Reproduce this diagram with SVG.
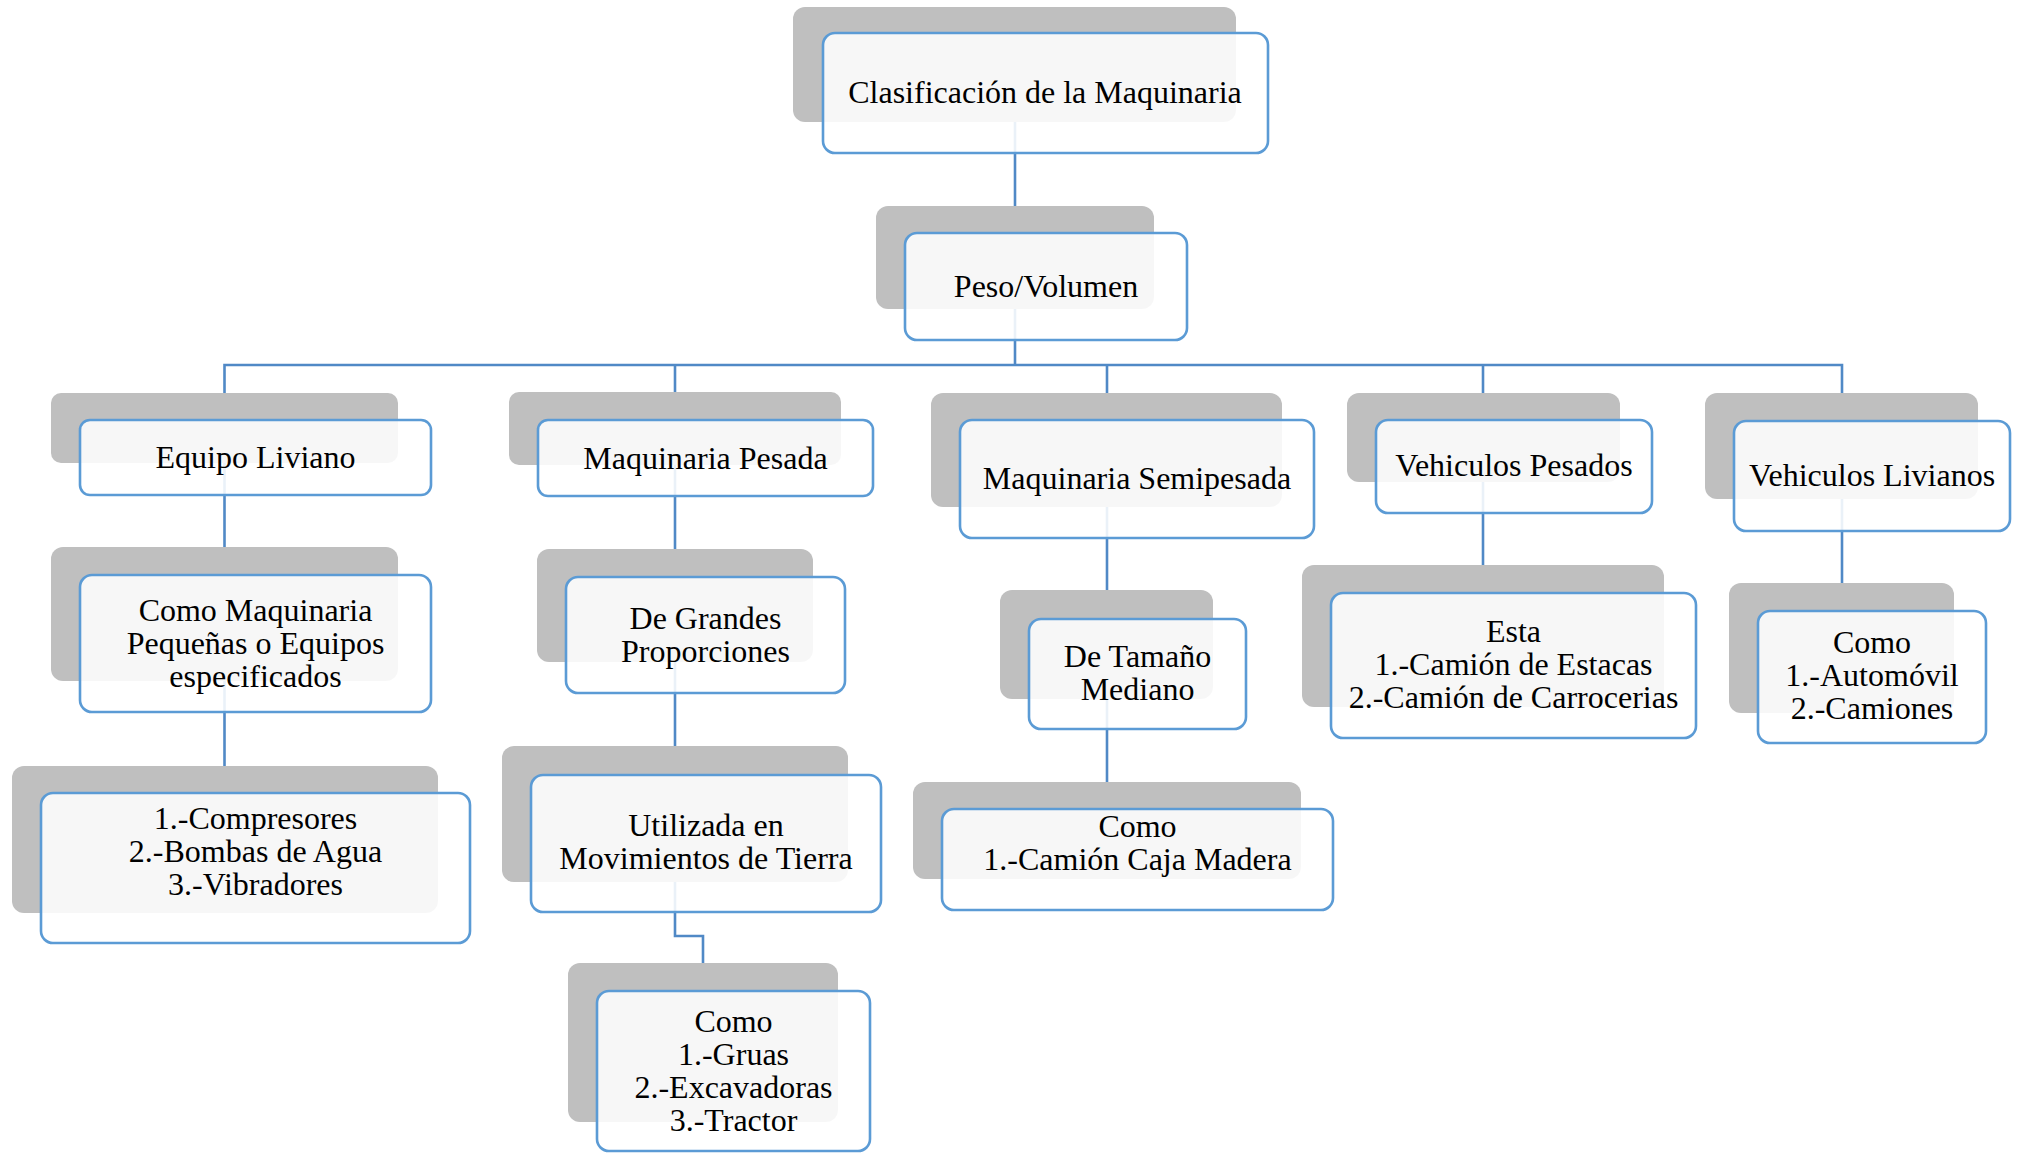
<svg xmlns="http://www.w3.org/2000/svg" width="2018" height="1153" viewBox="0 0 2018 1153">
<style>
.bg{fill:#ffffff}
.sh{fill:#bfbfbf}
.bx{fill:#ffffff;fill-opacity:0.88;stroke:#5b9bd5;stroke-width:2.6}
.c{fill:none;stroke:#5089c6;stroke-width:2.6}
text{font-family:"Liberation Serif","Times New Roman",serif;font-size:32px;fill:#000000;text-anchor:middle}
</style>
<rect class="bg" x="0" y="0" width="2018" height="1153"/>
<g id="connectors">
<path class="c" d="M1015 122V206"/>
<path class="c" d="M1015 309V365"/>
<path class="c" d="M224.5 393V365H1842V393"/>
<path class="c" d="M675 365V392"/>
<path class="c" d="M1107 365V393"/>
<path class="c" d="M1483 365V393"/>
<path class="c" d="M224.5 463V547"/>
<path class="c" d="M224.5 681V766"/>
<path class="c" d="M675 465V549"/>
<path class="c" d="M675 662V746"/>
<path class="c" d="M675 882V936H703V963"/>
<path class="c" d="M1107 507V590"/>
<path class="c" d="M1107 699V782"/>
<path class="c" d="M1483 482V565"/>
<path class="c" d="M1842 499V583"/>
</g>
<g id="n1">
<rect class="sh" x="793" y="7" width="443" height="115" rx="12"/>
<rect class="bx" x="823" y="33" width="445" height="120" rx="12"/>
<text x="1045" y="103">Clasificación de la Maquinaria</text>
</g>
<g id="n2">
<rect class="sh" x="876" y="206" width="278" height="103" rx="12"/>
<rect class="bx" x="905" y="233" width="282" height="107" rx="12"/>
<text x="1046" y="297">Peso/Volumen</text>
</g>
<g id="n3">
<rect class="sh" x="51" y="393" width="347" height="70" rx="10"/>
<rect class="bx" x="80" y="420" width="351" height="75" rx="10"/>
<text x="255.5" y="468">Equipo Liviano</text>
</g>
<g id="n4">
<rect class="sh" x="51" y="547" width="347" height="134" rx="12"/>
<rect class="bx" x="80" y="575" width="351" height="137" rx="12"/>
<text x="255.5" y="621">Como Maquinaria</text>
<text x="255.5" y="654">Pequeñas o Equipos</text>
<text x="255.5" y="687">especificados</text>
</g>
<g id="n5">
<rect class="sh" x="12" y="766" width="426" height="147" rx="12"/>
<rect class="bx" x="41" y="793" width="429" height="150" rx="12"/>
<text x="255.5" y="829">1.-Compresores</text>
<text x="255.5" y="862">2.-Bombas de Agua</text>
<text x="255.5" y="895">3.-Vibradores</text>
</g>
<g id="n6">
<rect class="sh" x="509" y="392" width="332" height="73" rx="10"/>
<rect class="bx" x="538" y="420" width="335" height="76" rx="10"/>
<text x="705.5" y="469">Maquinaria Pesada</text>
</g>
<g id="n7">
<rect class="sh" x="537" y="549" width="276" height="113" rx="12"/>
<rect class="bx" x="566" y="577" width="279" height="116" rx="12"/>
<text x="705.5" y="629">De Grandes</text>
<text x="705.5" y="662">Proporciones</text>
</g>
<g id="n8">
<rect class="sh" x="502" y="746" width="346" height="136" rx="12"/>
<rect class="bx" x="531" y="775" width="350" height="137" rx="12"/>
<text x="706" y="836">Utilizada en</text>
<text x="706" y="869">Movimientos de Tierra</text>
</g>
<g id="n9">
<rect class="sh" x="568" y="963" width="270" height="159" rx="12"/>
<rect class="bx" x="597" y="991" width="273" height="160" rx="12"/>
<text x="733.5" y="1032">Como</text>
<text x="733.5" y="1065">1.-Gruas</text>
<text x="733.5" y="1098">2.-Excavadoras</text>
<text x="733.5" y="1131">3.-Tractor</text>
</g>
<g id="n10">
<rect class="sh" x="931" y="393" width="351" height="114" rx="12"/>
<rect class="bx" x="960" y="420" width="354" height="118" rx="12"/>
<text x="1137" y="489">Maquinaria Semipesada</text>
</g>
<g id="n11">
<rect class="sh" x="1000" y="590" width="213" height="109" rx="12"/>
<rect class="bx" x="1029" y="619" width="217" height="110" rx="12"/>
<text x="1137.5" y="667">De Tamaño</text>
<text x="1137.5" y="700">Mediano</text>
</g>
<g id="n12">
<rect class="sh" x="913" y="782" width="388" height="97" rx="12"/>
<rect class="bx" x="942" y="809" width="391" height="101" rx="12"/>
<text x="1137.5" y="837">Como</text>
<text x="1137.5" y="870">1.-Camión Caja Madera</text>
</g>
<g id="n13">
<rect class="sh" x="1347" y="393" width="273" height="89" rx="12"/>
<rect class="bx" x="1376" y="420" width="276" height="93" rx="12"/>
<text x="1514" y="476">Vehiculos Pesados</text>
</g>
<g id="n14">
<rect class="sh" x="1302" y="565" width="362" height="142" rx="12"/>
<rect class="bx" x="1331" y="593" width="365" height="145" rx="12"/>
<text x="1513.5" y="642">Esta</text>
<text x="1513.5" y="675">1.-Camión de Estacas</text>
<text x="1513.5" y="708">2.-Camión de Carrocerias</text>
</g>
<g id="n15">
<rect class="sh" x="1705" y="393" width="273" height="106" rx="12"/>
<rect class="bx" x="1734" y="421" width="276" height="110" rx="12"/>
<text x="1872" y="486">Vehiculos Livianos</text>
</g>
<g id="n16">
<rect class="sh" x="1729" y="583" width="225" height="130" rx="12"/>
<rect class="bx" x="1758" y="611" width="228" height="132" rx="12"/>
<text x="1872" y="653">Como</text>
<text x="1872" y="686">1.-Automóvil</text>
<text x="1872" y="719">2.-Camiones</text>
</g>
</svg>
